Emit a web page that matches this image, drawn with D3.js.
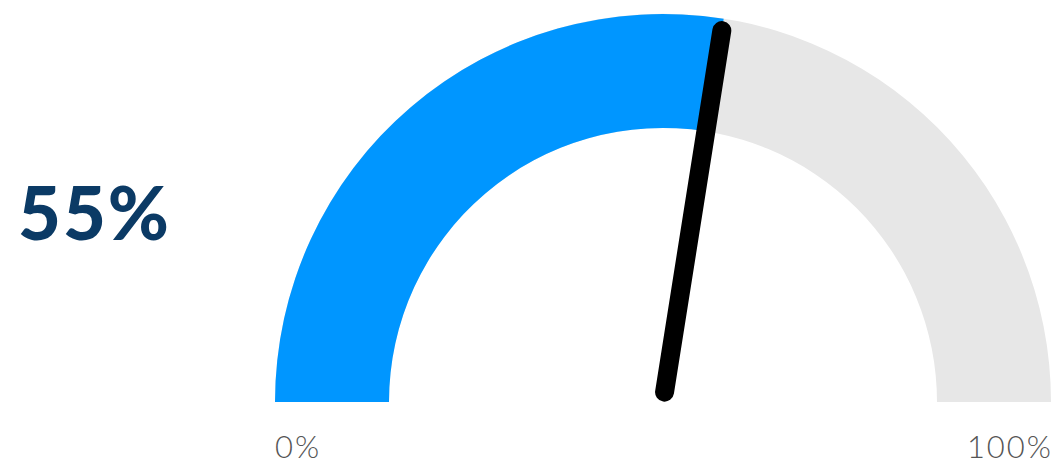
<!DOCTYPE html>
<html><head><meta charset="utf-8">
<script src="https://cdn.jsdelivr.net/npm/d3@7"></script>
<style>body{margin:0;background:#fff;}svg{display:block;}</style>
</head><body>
<svg id="chart" width="1055" height="464"></svg>
<script>
const value = [55];
const rangeLabels = ["0%", "100%"];
const domainRange = [0, 100];

const svg = d3.select("#chart");
const cx = 663, cy = 402, rOuter = 388, rInner = 274;
const angle = d3.scaleLinear().domain(domainRange).range([-Math.PI/2, Math.PI/2]);
const arc = d3.arc().innerRadius(rInner).outerRadius(rOuter);
const g = svg.append("g").attr("transform", `translate(${cx},${cy})`);
g.append("path").attr("d", arc({startAngle: angle(0), endAngle: angle(100)})).attr("fill", "#e7e7e7");
g.append("path").attr("d", arc({startAngle: angle(0), endAngle: angle(value[0])})).attr("fill", "#0096ff");

const a = angle(value[0]);
const r0 = 10, r1 = 376;
g.append("line")
  .attr("x1", r0*Math.sin(a)).attr("y1", -r0*Math.cos(a))
  .attr("x2", r1*Math.sin(a)).attr("y2", -r1*Math.cos(a))
  .attr("stroke", "#000").attr("stroke-width", 19).attr("stroke-linecap", "round");

svg.append("text").attr("x", 18).attr("y", 240)
  .attr("font-family", "Lato, sans-serif").attr("font-weight", 900).attr("font-size", 74)
  .attr("letter-spacing", 2)
  .attr("fill", "#0b3a65").text(value[0] + "%");

svg.append("text").attr("x", cx - rOuter).attr("y", 458)
  .attr("font-family", "Lato, sans-serif").attr("font-size", 31).attr("font-weight", 300)
  .attr("letter-spacing", 2).attr("fill", "#555")
  .text(rangeLabels[0]);
svg.append("text").attr("x", cx + rOuter + 2).attr("y", 458).attr("text-anchor", "end")
  .attr("font-family", "Lato, sans-serif").attr("font-size", 31).attr("font-weight", 300)
  .attr("letter-spacing", 2).attr("fill", "#555")
  .text(rangeLabels[1]);
</script>
</body></html>
